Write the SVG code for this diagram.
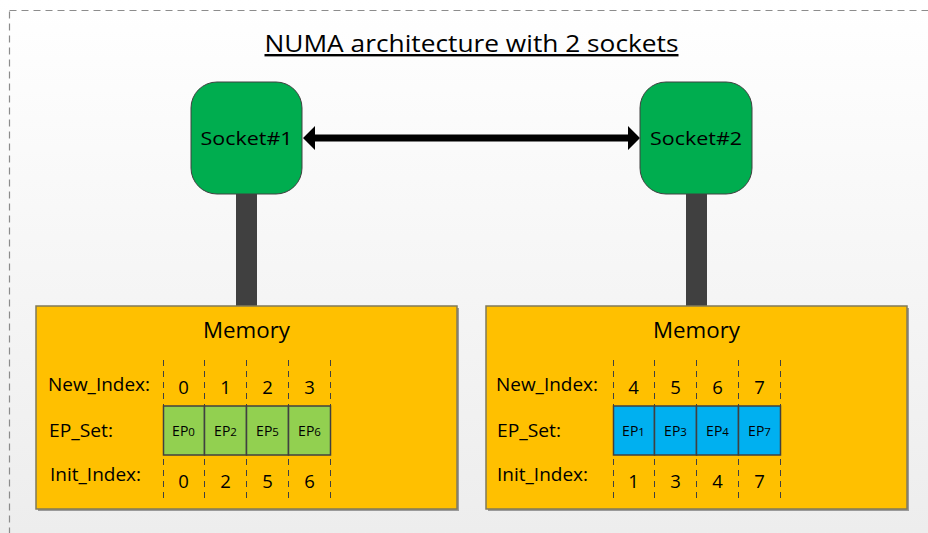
<svg xmlns="http://www.w3.org/2000/svg" width="928" height="533" viewBox="0 0 928 533">
<defs>
<linearGradient id="bg" x1="0" y1="0" x2="0" y2="1">
<stop offset="0" stop-color="#ffffff"/>
<stop offset="1" stop-color="#ededed"/>
</linearGradient>
<style>
text{font-family:"Open Sans","Liberation Sans",sans-serif;fill:#000}
.sock{fill:#00AD4F;stroke:#404040;stroke-width:1}
.mem{fill:#FFC000;stroke:#807a5a;stroke-width:1.5}
.shadow{fill:#9a9a9a}
.bus{fill:#404040}
.dash{stroke:#404040;stroke-width:1;stroke-dasharray:6,5}
.cellG{fill:#92D050;stroke:#404040;stroke-width:1.5}
.cellB{fill:#00B0F0;stroke:#404040;stroke-width:1.5}
.lbl{font-size:18.5px}
.num{font-size:18.5px;text-anchor:middle}
.ep{font-size:14px;text-anchor:middle}
.memt{font-size:22px;text-anchor:middle}
.st{font-size:19px;text-anchor:middle}
</style>
</defs>
<rect x="0" y="0" width="928" height="533" fill="url(#bg)"/>
<rect x="9.5" y="10.5" width="940" height="540" fill="none" stroke="#8c8c8c" stroke-width="1.2" stroke-dasharray="7,5"/>
<text x="471.5" y="52" font-size="24" text-anchor="middle" text-decoration="underline" textLength="414" lengthAdjust="spacingAndGlyphs">NUMA architecture with 2 sockets</text>

<g id="connectors">
<rect class="bus" x="236" y="194" width="21" height="112"/>
<rect class="bus" x="686" y="194" width="21" height="112"/>
<path d="M303,138 L315,126 L315,134.5 L628,134.5 L628,126 L640,138 L628,150 L628,141.5 L315,141.5 L315,150 Z" fill="#000"/>
</g>

<g id="socket1">
<rect class="sock" x="191" y="82" width="111" height="112" rx="26"/>
<text class="st" x="246.5" y="145" textLength="92" lengthAdjust="spacingAndGlyphs">Socket#1</text>
</g>
<g id="socket2">
<rect class="sock" x="640" y="82" width="112" height="112" rx="26"/>
<text class="st" x="696" y="145" textLength="92" lengthAdjust="spacingAndGlyphs">Socket#2</text>
</g>

<g id="memory1">
<rect class="shadow" x="38" y="308" width="421" height="203"/>
<rect class="mem" x="36" y="306" width="421" height="203"/>
<text class="memt" x="246.5" y="338" textLength="87" lengthAdjust="spacingAndGlyphs">Memory</text>
<text class="lbl" x="48" y="391" textLength="102" lengthAdjust="spacingAndGlyphs">New_Index:</text>
<text class="lbl" x="49" y="437" textLength="64" lengthAdjust="spacingAndGlyphs">EP_Set:</text>
<text class="lbl" x="50" y="481" textLength="91" lengthAdjust="spacingAndGlyphs">Init_Index:</text>
<line class="dash" x1="163.5" y1="360" x2="163.5" y2="500"/>
<line class="dash" x1="204.5" y1="360" x2="204.5" y2="500"/>
<line class="dash" x1="246.5" y1="360" x2="246.5" y2="500"/>
<line class="dash" x1="288.5" y1="360" x2="288.5" y2="500"/>
<line class="dash" x1="330.5" y1="360" x2="330.5" y2="500"/>
<rect class="cellG" x="163.5" y="406" width="41" height="49"/>
<rect class="cellG" x="204.5" y="406" width="42" height="49"/>
<rect class="cellG" x="246.5" y="406" width="42" height="49"/>
<rect class="cellG" x="288.5" y="406" width="42" height="49"/>
<text class="num" x="183.5" y="394">0</text>
<text class="num" x="225.5" y="394">1</text>
<text class="num" x="267.5" y="394">2</text>
<text class="num" x="309.5" y="394">3</text>
<text class="ep" x="183.5" y="436">EP<tspan font-size="11.5">0</tspan></text>
<text class="ep" x="225.5" y="436">EP<tspan font-size="11.5">2</tspan></text>
<text class="ep" x="267.5" y="436">EP<tspan font-size="11.5">5</tspan></text>
<text class="ep" x="309.5" y="436">EP<tspan font-size="11.5">6</tspan></text>
<text class="num" x="183.5" y="488">0</text>
<text class="num" x="225.5" y="488">2</text>
<text class="num" x="267.5" y="488">5</text>
<text class="num" x="309.5" y="488">6</text>
</g>

<g id="memory2">
<rect class="shadow" x="488" y="308" width="421" height="203"/>
<rect class="mem" x="486" y="306" width="421" height="203"/>
<text class="memt" x="696.5" y="338" textLength="87" lengthAdjust="spacingAndGlyphs">Memory</text>
<text class="lbl" x="496" y="391" textLength="102" lengthAdjust="spacingAndGlyphs">New_Index:</text>
<text class="lbl" x="497" y="437" textLength="64" lengthAdjust="spacingAndGlyphs">EP_Set:</text>
<text class="lbl" x="497" y="481" textLength="91" lengthAdjust="spacingAndGlyphs">Init_Index:</text>
<line class="dash" x1="613.5" y1="360" x2="613.5" y2="500"/>
<line class="dash" x1="654.5" y1="360" x2="654.5" y2="500"/>
<line class="dash" x1="696.5" y1="360" x2="696.5" y2="500"/>
<line class="dash" x1="738.5" y1="360" x2="738.5" y2="500"/>
<line class="dash" x1="780.5" y1="360" x2="780.5" y2="500"/>
<rect class="cellB" x="613.5" y="406" width="41" height="49"/>
<rect class="cellB" x="654.5" y="406" width="42" height="49"/>
<rect class="cellB" x="696.5" y="406" width="42" height="49"/>
<rect class="cellB" x="738.5" y="406" width="42" height="49"/>
<text class="num" x="633.5" y="394">4</text>
<text class="num" x="675.5" y="394">5</text>
<text class="num" x="717.5" y="394">6</text>
<text class="num" x="759.5" y="394">7</text>
<text class="ep" x="633.5" y="436">EP<tspan font-size="11.5">1</tspan></text>
<text class="ep" x="675.5" y="436">EP<tspan font-size="11.5">3</tspan></text>
<text class="ep" x="717.5" y="436">EP<tspan font-size="11.5">4</tspan></text>
<text class="ep" x="759.5" y="436">EP<tspan font-size="11.5">7</tspan></text>
<text class="num" x="633.5" y="488">1</text>
<text class="num" x="675.5" y="488">3</text>
<text class="num" x="717.5" y="488">4</text>
<text class="num" x="759.5" y="488">7</text>
</g>
</svg>
